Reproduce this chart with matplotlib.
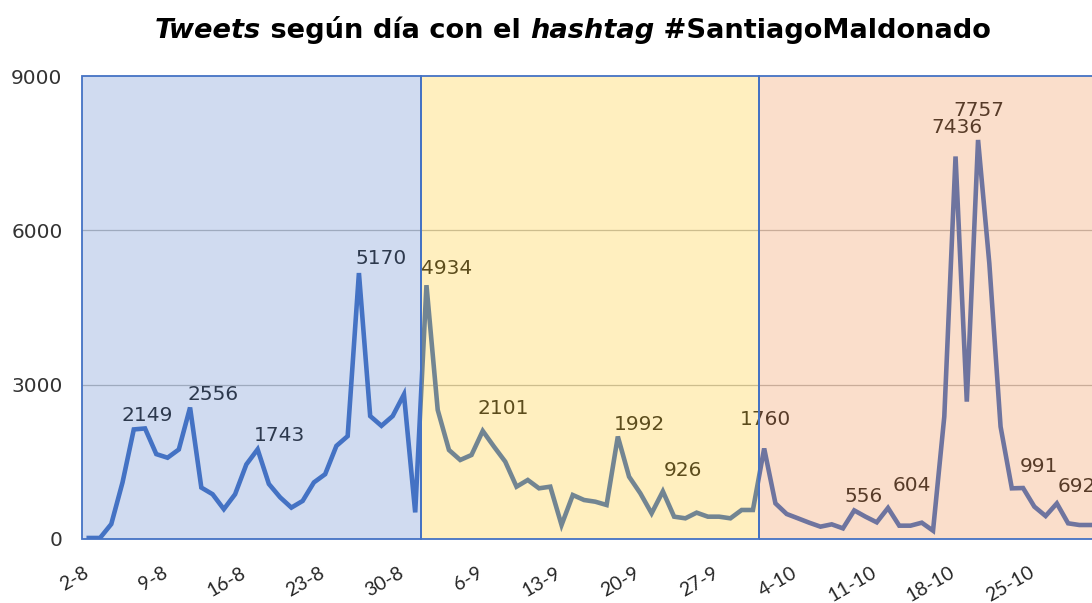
import matplotlib
matplotlib.use("Agg")
import matplotlib.pyplot as plt
from matplotlib.patches import Rectangle
from matplotlib.transforms import ScaledTranslation

# ---------------- data ----------------
tweets = [20, 20, 290, 1100, 2130, 2149, 1650, 1580, 1740, 2556,
          1000, 870, 580, 870, 1450, 1743, 1070, 810, 610, 740,
          1100, 1260, 1810, 2000, 5170, 2390, 2200, 2390, 2810, 517,
          4934, 2508, 1730, 1536, 1633, 2101, 1795, 1503, 1017, 1147,
          985, 1017, 272, 855, 758, 725, 661, 1992, 1211, 888,
          499, 926, 434, 402, 512, 434, 434, 402, 564, 564,
          1760, 693, 486, 402, 317, 240, 285, 207, 556, 434,
          324, 604, 259, 259, 317, 162, 2378, 7436, 2670, 7757,
          5359, 2184, 985, 991, 629, 447, 692, 305, 272, 272,
          270]
days = list(range(len(tweets)))

tick_days = [0, 7, 14, 21, 28, 35, 42, 49, 56, 63, 70, 77, 84]
tick_labels = ["2-8", "9-8", "16-8", "23-8", "30-8", "6-9", "13-9", "20-9",
               "27-9", "4-10", "11-10", "18-10", "25-10"]

# labelled points (day index) and their pixel offsets for the label
label_days = [5, 9, 15, 24, 30, 35, 47, 51, 60, 68, 71, 77, 79, 83, 86]
label_offsets = [(2, 13), (23, 13), (22, 14), (22, 15), (20, 17), (21, 22),
                 (22, 12), (20, 21), (1, 29), (9, 14), (24, 22), (1, 29),
                 (1, 29), (16, 22), (20, 17)]

# periods: (start, end, colour)
periods = [(-0.6, 29.5, "#4472C4"),
           (29.5, 59.5, "#FFC000"),
           (59.5, 90.5, "#ED7D31")]

# ---------------- figure ----------------
W, H = 1092, 603
fig = plt.figure(figsize=(W / 100, H / 100), dpi=100)
x0, x1 = -0.6, 90.5
px_per_day = 11.257
ax_left_px, ax_bottom_px, ax_top_px = 82, 539, 76
ax_w_px = (x1 - x0) * px_per_day
ax = fig.add_axes([ax_left_px / W, (H - ax_bottom_px) / H,
                   ax_w_px / W, (ax_bottom_px - ax_top_px) / H])
ax.set_xlim(x0, x1)
ax.set_ylim(0, 9000)

# gridlines
for g in [3000, 6000]:
    ax.axhline(g, color="#BDBDBD", lw=0.9, zorder=1)

# line
ax.plot(days, tweets, color="#4472C4", lw=3.3, solid_joinstyle="miter",
        zorder=2)

# data labels
for d, (dx, dy) in zip(label_days, label_offsets):
    ax.annotate(str(tweets[d]), xy=(d, tweets[d]), xytext=(dx, dy),
                textcoords="offset pixels", ha="center", va="center",
                fontsize=14.5, color="#262626", family="DejaVu Sans",
                zorder=3)

# translucent period overlays + borders
for s, e, c in periods:
    ax.add_patch(Rectangle((s, 0), e - s, 9000, facecolor=c, alpha=0.25,
                           edgecolor="none", zorder=4))
    ax.add_patch(Rectangle((s, 0), e - s, 9000, facecolor="none",
                           edgecolor="#4472C4", lw=1.3, zorder=5,
                           clip_on=False))

for sp in ax.spines.values():
    sp.set_visible(False)

ax.set_yticks([0, 3000, 6000, 9000])
ax.set_yticklabels(["0", "3000", "6000", "9000"], fontsize=14.5,
                   color="#333333", family="DejaVu Sans")
ax.tick_params(axis="y", length=0, pad=14)

ax.set_xticks(tick_days)
ax.set_xticklabels(tick_labels, rotation=30, ha="right", va="top",
                   rotation_mode="anchor", fontsize=14, color="#262626",
                   family="Lato")
ax.tick_params(axis="x", length=0, pad=18)
shift = ScaledTranslation(-6 / 100, 0, fig.dpi_scale_trans)
for lab in ax.get_xticklabels():
    lab.set_transform(lab.get_transform() + shift)

# title with mixed italic pieces
pieces = [("Tweets", "italic"), (" según día con el ", "normal"),
          ("hashtag", "italic"), (" #SantiagoMaldonado", "normal")]
fs = 19.6
renderer = fig.canvas.get_renderer()
texts = []
for s, st in pieces:
    t = fig.text(0, 0, s, fontsize=fs, fontweight="bold", style=st,
                 family="DejaVu Sans", color="#000000", va="baseline")
    texts.append(t)
widths = [t.get_window_extent(renderer).width for t in texts]
total = sum(widths)
cx, base_y = 573, H - 38
x = cx - total / 2
for t, w in zip(texts, widths):
    t.set_position((x / W, base_y / H))
    x += w

fig.savefig("out.png", dpi=100)
